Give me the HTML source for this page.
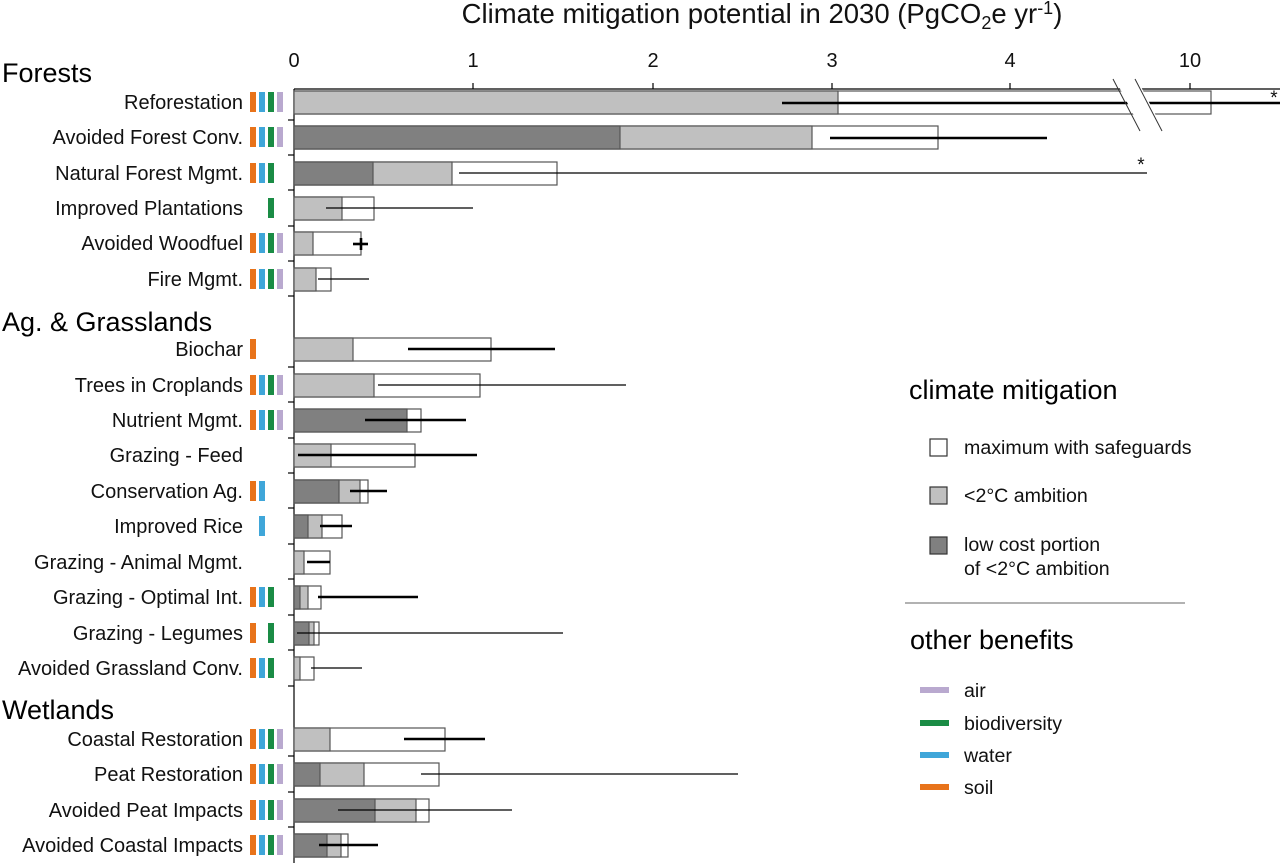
<!DOCTYPE html>
<html><head><meta charset="utf-8"><style>
body{margin:0;background:#fff;}
svg{display:block;font-family:"Liberation Sans",Arial,sans-serif;}
.l{font-size:20px;text-anchor:end;fill:#111}
.h{font-size:27px;fill:#000}
.t{font-size:20px;text-anchor:middle;fill:#111}
.g{font-size:19.6px;fill:#111}
</style></head><body>
<svg width="1280" height="863" viewBox="0 0 1280 863">
<text x="762" y="23" class="t" style="font-size:27.5px">Climate mitigation potential in 2030 (PgCO<tspan font-size="18" dy="6">2</tspan><tspan dy="-6">e yr</tspan><tspan font-size="18" dy="-9">-1</tspan><tspan dy="9">)</tspan></text>
<g stroke="#000" stroke-width="1.2">
<line x1="294" y1="89" x2="1280" y2="89"/>
<line x1="294" y1="89" x2="294" y2="863"/>
<line x1="473" y1="83" x2="473" y2="89"/><line x1="653" y1="83" x2="653" y2="89"/><line x1="832" y1="83" x2="832" y2="89"/><line x1="1010" y1="83" x2="1010" y2="89"/><line x1="1190" y1="83" x2="1190" y2="89"/>
<line x1="288" y1="120" x2="294" y2="120"/><line x1="288" y1="155" x2="294" y2="155"/><line x1="288" y1="190" x2="294" y2="190"/><line x1="288" y1="226" x2="294" y2="226"/><line x1="288" y1="261" x2="294" y2="261"/><line x1="288" y1="296" x2="294" y2="296"/>
<line x1="288" y1="367" x2="294" y2="367"/><line x1="288" y1="402" x2="294" y2="402"/><line x1="288" y1="438" x2="294" y2="438"/><line x1="288" y1="473" x2="294" y2="473"/><line x1="288" y1="508" x2="294" y2="508"/><line x1="288" y1="544" x2="294" y2="544"/><line x1="288" y1="579" x2="294" y2="579"/><line x1="288" y1="615" x2="294" y2="615"/><line x1="288" y1="650" x2="294" y2="650"/><line x1="288" y1="686" x2="294" y2="686"/>
<line x1="288" y1="756" x2="294" y2="756"/><line x1="288" y1="792" x2="294" y2="792"/><line x1="288" y1="827" x2="294" y2="827"/>
</g>
<g class="t"><text x="294" y="67">0</text><text x="473" y="67">1</text><text x="653" y="67">2</text><text x="832" y="67">3</text><text x="1010" y="67">4</text><text x="1190" y="67">10</text></g>
<text x="2" y="82" class="h">Forests</text>
<text x="2" y="331" class="h">Ag. &amp; Grasslands</text>
<text x="2" y="719" class="h">Wetlands</text>
<g class="l">
<text x="243" y="109">Reforestation</text><text x="243" y="144">Avoided Forest Conv.</text><text x="243" y="180">Natural Forest Mgmt.</text><text x="243" y="215">Improved Plantations</text><text x="243" y="250">Avoided Woodfuel</text><text x="243" y="286">Fire Mgmt.</text>
<text x="243" y="356">Biochar</text><text x="243" y="392">Trees in Croplands</text><text x="243" y="427">Nutrient Mgmt.</text><text x="243" y="462">Grazing - Feed</text><text x="243" y="498">Conservation Ag.</text><text x="243" y="533">Improved Rice</text><text x="243" y="569">Grazing - Animal Mgmt.</text><text x="243" y="604">Grazing - Optimal Int.</text><text x="243" y="640">Grazing - Legumes</text><text x="243" y="675">Avoided Grassland Conv.</text>
<text x="243" y="746">Coastal Restoration</text><text x="243" y="781">Peat Restoration</text><text x="243" y="817">Avoided Peat Impacts</text><text x="243" y="852">Avoided Coastal Impacts</text>
</g>
<g>
<g fill="#e8731a">
<rect x="250" y="92" width="6" height="20"/><rect x="250" y="127" width="6" height="20"/><rect x="250" y="163" width="6" height="20"/><rect x="250" y="233" width="6" height="20"/><rect x="250" y="269" width="6" height="20"/>
<rect x="250" y="339" width="6" height="20"/><rect x="250" y="375" width="6" height="20"/><rect x="250" y="410" width="6" height="20"/><rect x="250" y="481" width="6" height="20"/><rect x="250" y="587" width="6" height="20"/><rect x="250" y="623" width="6" height="20"/><rect x="250" y="658" width="6" height="20"/>
<rect x="250" y="729" width="6" height="20"/><rect x="250" y="764" width="6" height="20"/><rect x="250" y="800" width="6" height="20"/><rect x="250" y="835" width="6" height="20"/>
</g>
<g fill="#3fa6d9">
<rect x="259" y="92" width="6" height="20"/><rect x="259" y="127" width="6" height="20"/><rect x="259" y="163" width="6" height="20"/><rect x="259" y="233" width="6" height="20"/><rect x="259" y="269" width="6" height="20"/>
<rect x="259" y="375" width="6" height="20"/><rect x="259" y="410" width="6" height="20"/><rect x="259" y="481" width="6" height="20"/><rect x="259" y="516" width="6" height="20"/><rect x="259" y="587" width="6" height="20"/><rect x="259" y="658" width="6" height="20"/>
<rect x="259" y="729" width="6" height="20"/><rect x="259" y="764" width="6" height="20"/><rect x="259" y="800" width="6" height="20"/><rect x="259" y="835" width="6" height="20"/>
</g>
<g fill="#1a8c45">
<rect x="268" y="92" width="6" height="20"/><rect x="268" y="127" width="6" height="20"/><rect x="268" y="163" width="6" height="20"/><rect x="268" y="198" width="6" height="20"/><rect x="268" y="233" width="6" height="20"/><rect x="268" y="269" width="6" height="20"/>
<rect x="268" y="375" width="6" height="20"/><rect x="268" y="410" width="6" height="20"/><rect x="268" y="587" width="6" height="20"/><rect x="268" y="623" width="6" height="20"/><rect x="268" y="658" width="6" height="20"/>
<rect x="268" y="729" width="6" height="20"/><rect x="268" y="764" width="6" height="20"/><rect x="268" y="800" width="6" height="20"/><rect x="268" y="835" width="6" height="20"/>
</g>
<g fill="#b9a9cf">
<rect x="277" y="92" width="6" height="20"/><rect x="277" y="127" width="6" height="20"/><rect x="277" y="233" width="6" height="20"/><rect x="277" y="269" width="6" height="20"/>
<rect x="277" y="375" width="6" height="20"/><rect x="277" y="410" width="6" height="20"/>
<rect x="277" y="729" width="6" height="20"/><rect x="277" y="764" width="6" height="20"/><rect x="277" y="800" width="6" height="20"/><rect x="277" y="835" width="6" height="20"/>
</g>
</g>
<g stroke="#555" stroke-width="1.2">
<rect x="294" y="91" width="917" height="23" fill="#fff"/><rect x="294" y="91" width="544" height="23" fill="#c0c0c0"/>
<rect x="294" y="126" width="644" height="23" fill="#fff"/><rect x="294" y="126" width="518" height="23" fill="#c0c0c0"/><rect x="294" y="126" width="326" height="23" fill="#808080"/>
<rect x="294" y="162" width="263" height="23" fill="#fff"/><rect x="294" y="162" width="158" height="23" fill="#c0c0c0"/><rect x="294" y="162" width="79" height="23" fill="#808080"/>
<rect x="294" y="197" width="80" height="23" fill="#fff"/><rect x="294" y="197" width="48" height="23" fill="#c0c0c0"/>
<rect x="294" y="232" width="67" height="23" fill="#fff"/><rect x="294" y="232" width="19" height="23" fill="#c0c0c0"/>
<rect x="294" y="268" width="37" height="23" fill="#fff"/><rect x="294" y="268" width="22" height="23" fill="#c0c0c0"/>
<rect x="294" y="338" width="197" height="23" fill="#fff"/><rect x="294" y="338" width="59" height="23" fill="#c0c0c0"/>
<rect x="294" y="374" width="186" height="23" fill="#fff"/><rect x="294" y="374" width="80" height="23" fill="#c0c0c0"/>
<rect x="294" y="409" width="127" height="23" fill="#fff"/><rect x="294" y="409" width="113" height="23" fill="#808080"/>
<rect x="294" y="444" width="121" height="23" fill="#fff"/><rect x="294" y="444" width="37" height="23" fill="#c0c0c0"/>
<rect x="294" y="480" width="74" height="23" fill="#fff"/><rect x="294" y="480" width="66" height="23" fill="#c0c0c0"/><rect x="294" y="480" width="45" height="23" fill="#808080"/>
<rect x="294" y="515" width="48" height="23" fill="#fff"/><rect x="294" y="515" width="28" height="23" fill="#c0c0c0"/><rect x="294" y="515" width="14" height="23" fill="#808080"/>
<rect x="294" y="551" width="36" height="23" fill="#fff"/><rect x="294" y="551" width="10" height="23" fill="#c0c0c0"/>
<rect x="294" y="586" width="27" height="23" fill="#fff"/><rect x="294" y="586" width="14" height="23" fill="#c0c0c0"/><rect x="294" y="586" width="6" height="23" fill="#808080"/>
<rect x="294" y="622" width="25" height="23" fill="#fff"/><rect x="294" y="622" width="20" height="23" fill="#c0c0c0"/><rect x="294" y="622" width="15" height="23" fill="#808080"/>
<rect x="294" y="657" width="20" height="23" fill="#fff"/><rect x="294" y="657" width="6" height="23" fill="#c0c0c0"/>
<rect x="294" y="728" width="151" height="23" fill="#fff"/><rect x="294" y="728" width="36" height="23" fill="#c0c0c0"/>
<rect x="294" y="763" width="145" height="23" fill="#fff"/><rect x="294" y="763" width="70" height="23" fill="#c0c0c0"/><rect x="294" y="763" width="26" height="23" fill="#808080"/>
<rect x="294" y="799" width="135" height="23" fill="#fff"/><rect x="294" y="799" width="122" height="23" fill="#c0c0c0"/><rect x="294" y="799" width="81" height="23" fill="#808080"/>
<rect x="294" y="834" width="54" height="23" fill="#fff"/><rect x="294" y="834" width="47" height="23" fill="#c0c0c0"/><rect x="294" y="834" width="33" height="23" fill="#808080"/>
</g>
<g stroke="#000" stroke-width="2.6">
<line x1="782" y1="103" x2="1280" y2="103"/>
<line x1="830" y1="138" x2="1047" y2="138"/>
<line x1="353" y1="244" x2="368" y2="244"/><line x1="361" y1="238" x2="361" y2="250"/>
<line x1="408" y1="349" x2="555" y2="349"/>
<line x1="365" y1="420" x2="466" y2="420"/>
<line x1="298" y1="455" x2="477" y2="455"/>
<line x1="350" y1="491" x2="387" y2="491"/>
<line x1="320" y1="526" x2="352" y2="526"/>
<line x1="307" y1="562" x2="330" y2="562"/>
<line x1="318" y1="597" x2="418" y2="597"/>
<line x1="404" y1="739" x2="485" y2="739"/>
<line x1="319" y1="845" x2="378" y2="845"/>
</g>
<polygon points="1115,79 1137,79 1164,131 1142,131" fill="#fff"/>
<g stroke="#333" stroke-width="1"><line x1="1113" y1="79" x2="1140" y2="131"/><line x1="1135" y1="79" x2="1162" y2="131"/></g>
<g stroke="#000" stroke-width="1.2">
<line x1="459" y1="173" x2="1147" y2="173"/>
<line x1="326" y1="208" x2="473" y2="208"/>
<line x1="318" y1="279" x2="369" y2="279"/>
<line x1="378" y1="385" x2="626" y2="385"/>
<line x1="297" y1="633" x2="563" y2="633"/>
<line x1="311" y1="668" x2="362" y2="668"/>
<line x1="421" y1="774" x2="738" y2="774"/>
<line x1="338" y1="810" x2="512" y2="810"/>
</g>
<text x="1274" y="104" class="g" style="font-size:19px;text-anchor:middle">*</text>
<text x="1141" y="171" class="g" style="font-size:19px;text-anchor:middle">*</text>
<text x="909" y="399" class="h">climate mitigation</text>
<g stroke="#333" stroke-width="1.2">
<rect x="930" y="439" width="17" height="17" fill="#fff"/>
<rect x="930" y="487" width="17" height="17" fill="#c0c0c0"/>
<rect x="930" y="537" width="17" height="17" fill="#808080"/>
</g>
<g class="g"><text x="964" y="454">maximum with safeguards</text><text x="964" y="502">&lt;2°C ambition</text><text x="964" y="551">low cost portion</text><text x="964" y="575">of &lt;2°C ambition</text></g>
<line x1="905" y1="603" x2="1185" y2="603" stroke="#999" stroke-width="1.5"/>
<text x="910" y="649" class="h">other benefits</text>
<g stroke-width="6"><line x1="920" y1="690" x2="949" y2="690" stroke="#b9a9cf"/><line x1="920" y1="723" x2="949" y2="723" stroke="#1a8c45"/><line x1="920" y1="755" x2="949" y2="755" stroke="#3fa6d9"/><line x1="920" y1="787" x2="949" y2="787" stroke="#e8731a"/></g>
<g class="g"><text x="964" y="697">air</text><text x="964" y="730">biodiversity</text><text x="964" y="762">water</text><text x="964" y="794">soil</text></g>
</svg>
</body></html>
